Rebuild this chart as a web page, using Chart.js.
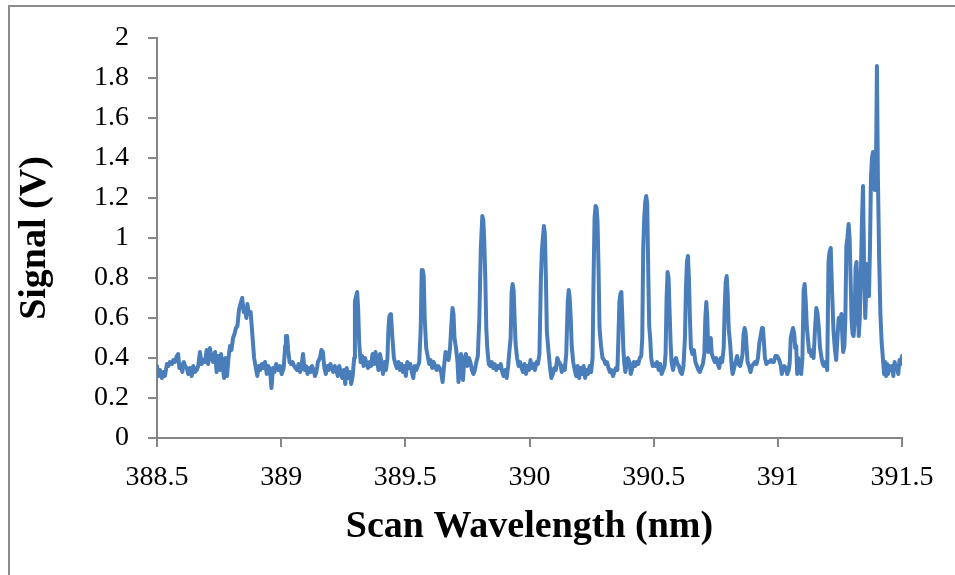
<!DOCTYPE html>
<html lang="en">
<head>
    <meta charset="UTF-8">
    <title>Signal vs Scan Wavelength</title>
    <script src="https://cdn.jsdelivr.net/npm/chart.js"></script>
    <style>
        * {
            padding: 0;
            margin: 0;
            box-sizing: border-box;
        }

        body {
            background: #ffffff;
            width: 955px;
            height: 575px;
            overflow: hidden;
            position: relative;
        }

        #frame {
            position: absolute;
            left: 8px;
            top: 5px;
            width: 960px;
            height: 580px;
            border-left: 2px solid #8c8c8c;
            border-top: 2px solid #8c8c8c;
        }

        #chart {
            position: absolute;
            left: 0;
            top: 0;
        }
    </style>
</head>

<body>
    <div id="frame"></div>
    <canvas id="chart" width="955" height="575"></canvas>

    <script>
        // scan wavelength (nm)
        const wavelength = [
            388.500,388.506,388.512,388.520,388.526,388.532,388.540,388.546,388.552,388.560,
            388.566,388.572,388.580,388.585,388.590,388.596,388.602,388.608,388.613,388.620,
            388.626,388.633,388.640,388.646,388.653,388.660,388.666,388.673,388.680,388.686,
            388.693,388.700,388.706,388.713,388.720,388.726,388.734,388.740,388.746,388.754,
            388.758,388.764,388.770,388.776,388.782,388.788,388.794,388.800,388.806,388.812,
            388.818,388.824,388.830,388.836,388.843,388.849,388.854,388.860,388.864,388.870,
            388.877,388.885,388.891,388.898,388.904,388.910,388.916,388.922,388.928,388.935,
            388.942,388.948,388.955,388.961,388.967,388.973,388.980,388.988,
            388.995,389.002,389.010,389.016,389.019,389.024,389.028,389.034,389.040,389.046,
            389.052,389.058,389.064,389.070,389.076,389.082,389.088,389.094,389.100,389.106,
            389.112,389.118,389.124,389.130,389.136,389.142,389.148,389.156,389.162,389.168,
            389.174,389.180,389.186,389.192,389.198,389.204,389.210,389.216,389.222,389.228,
            389.234,389.240,389.246,389.252,389.258,389.264,389.270,389.276,389.282,389.288,
            389.294,389.297,389.302,389.306,389.310,389.314,389.320,389.326,389.332,389.338,
            389.344,389.350,389.356,389.362,389.368,389.374,389.380,389.386,389.392,389.398,
            389.404,389.410,389.416,389.422,389.428,389.432,389.436,389.442,389.448,389.454,
            389.460,389.466,
            389.472,389.478,389.484,389.490,389.496,389.502,389.508,389.514,389.520,389.526,
            389.532,389.538,389.544,389.550,389.556,389.562,389.566,389.570,389.574,389.578,
            389.584,389.590,389.596,389.602,389.608,389.614,389.620,389.626,389.632,389.638,
            389.644,389.650,389.656,389.662,389.668,389.674,389.680,389.686,389.690,389.694,
            389.698,389.704,389.710,389.714,389.720,389.724,389.728,389.732,389.738,389.744,
            389.750,389.756,389.762,389.768,389.774,389.780,389.786,389.792,389.798,389.804,
            389.810,389.814,389.818,389.822,389.826,389.830,389.836,389.842,389.848,389.854,
            389.860,389.866,389.872,389.878,389.884,389.890,389.896,389.902,389.908,389.914,
            389.918,389.924,389.928,389.932,389.936,389.940,389.944,389.950,389.956,389.962,
            389.968,389.974,389.980,389.986,389.992,389.998,390.004,390.010,390.016,390.022,
            390.028,390.034,390.040,390.046,390.050,390.054,390.058,390.062,390.066,390.070,
            390.076,390.082,390.088,390.094,390.100,390.106,390.112,390.118,390.124,390.130,
            390.136,390.142,390.148,390.154,390.158,390.162,390.166,390.170,390.176,390.182,
            390.188,390.194,390.200,390.206,390.212,390.218,390.224,390.230,390.236,390.242,
            390.248,390.254,390.258,390.262,390.266,390.270,390.274,390.278,390.282,390.288,
            390.294,390.300,390.306,390.312,390.318,390.324,390.330,390.336,390.342,390.348,
            390.354,390.358,390.362,390.366,390.370,390.374,390.378,390.382,390.386,390.390,
            390.396,390.402,390.408,390.414,390.420,390.426,390.432,390.438,390.444,390.450,
            390.454,390.458,390.462,390.466,390.470,390.474,390.478,390.482,390.486,390.490,
            390.496,
            390.502,390.508,390.514,390.520,390.526,390.532,390.538,390.544,390.548,390.552,
            390.556,390.560,390.564,390.568,390.572,390.578,390.584,390.590,390.596,390.602,
            390.608,390.614,390.620,390.626,390.630,390.634,390.638,390.642,390.646,390.650,
            390.656,390.662,390.668,390.674,390.680,390.686,390.692,390.698,390.704,390.708,
            390.712,390.716,390.720,390.726,390.730,390.734,390.740,390.746,390.752,390.758,
            390.764,390.770,390.776,390.782,390.786,390.790,390.794,390.798,390.802,390.808,
            390.814,390.818,390.824,390.830,390.836,390.842,390.848,390.854,390.858,390.862,
            390.866,390.870,390.874,390.878,390.884,390.890,390.896,390.902,390.908,390.914,
            390.920,390.926,390.932,390.936,390.940,390.944,390.948,390.954,390.960,
            390.966,390.972,390.978,390.984,390.990,390.996,391.002,391.008,391.012,391.016,
            391.020,391.026,391.032,391.038,391.044,391.048,391.052,391.057,391.061,391.066,
            391.070,391.074,391.078,391.082,391.086,391.090,391.094,391.099,391.104,391.108,
            391.113,391.117,391.121,391.126,391.131,391.135,391.140,391.144,391.150,391.155,
            391.160,391.165,391.170,391.176,391.181,391.186,391.192,391.199,391.204,391.208,
            391.213,391.218,391.224,391.230,391.235,391.240,391.245,391.251,391.256,391.260,
            391.263,391.268,391.272,391.276,391.280,391.285,391.289,391.293,391.297,391.301,
            391.305,391.309,391.313,391.317,391.321,391.326,391.330,391.334,391.339,391.343,
            391.347,391.352,391.356,391.359,391.363,391.367,391.371,391.375,391.379,391.383,
            391.387,391.391,391.395,391.399,391.403,391.408,391.413,391.418,391.423,391.428,
            391.432,391.436,391.440,391.444,391.449,391.454,391.460,391.465,391.470,391.475,
            391.480,391.485,391.490,391.495,391.500
        ];

        // signal (V), same order as wavelength
        const signal = [
            0.36,0.31,0.34,0.30,0.33,0.31,0.37,0.36,0.38,0.37,
            0.39,0.38,0.41,0.42,0.35,0.37,0.33,0.38,0.36,0.35,
            0.32,0.35,0.31,0.36,0.33,0.34,0.36,0.43,0.37,0.39,
            0.38,0.44,0.37,0.45,0.40,0.38,0.43,0.33,0.41,0.34,
            0.42,0.36,0.30,0.40,0.31,0.40,0.46,0.44,0.50,0.52,
            0.55,0.56,0.64,0.67,0.70,0.63,0.64,0.60,0.67,0.62,
            0.63,0.50,0.40,0.35,0.31,0.36,0.34,0.37,0.35,0.38,
            0.32,0.36,0.34,0.25,0.35,0.33,0.37,0.34,
            0.36,0.32,0.35,0.46,0.51,0.51,0.44,0.38,0.37,0.38,
            0.36,0.35,0.34,0.37,0.33,0.36,0.42,0.34,0.36,0.32,
            0.35,0.33,0.36,0.34,0.31,0.33,0.38,0.40,0.44,0.43,
            0.35,0.32,0.36,0.34,0.37,0.35,0.33,0.36,0.34,0.31,
            0.36,0.33,0.30,0.34,0.27,0.35,0.30,0.33,0.27,0.31,
            0.40,0.68,0.71,0.73,0.65,0.48,0.38,0.41,0.36,0.40,
            0.37,0.35,0.38,0.36,0.42,0.37,0.43,0.38,0.34,0.42,
            0.38,0.32,0.38,0.34,0.40,0.55,0.61,0.62,0.50,0.40,
            0.37,0.35,
            0.38,0.34,0.37,0.33,0.36,0.31,0.38,0.35,0.37,0.33,
            0.30,0.36,0.34,0.36,0.38,0.55,0.84,0.84,0.81,0.60,
            0.45,0.41,0.37,0.39,0.35,0.38,0.36,0.34,0.36,0.35,
            0.33,0.28,0.36,0.43,0.42,0.39,0.45,0.58,0.65,0.62,
            0.50,0.45,0.38,0.28,0.38,0.42,0.33,0.29,0.40,0.42,
            0.36,0.40,0.38,0.34,0.32,0.34,0.38,0.41,0.60,0.95,
            1.11,1.09,0.98,0.80,0.55,0.45,0.37,0.36,0.38,0.35,
            0.37,0.34,0.36,0.35,0.37,0.33,0.31,0.34,0.30,0.36,
            0.42,0.50,0.73,0.77,0.74,0.60,0.47,0.40,0.36,0.38,
            0.35,0.33,0.37,0.32,0.36,0.34,0.39,0.35,0.37,0.34,
            0.38,0.37,0.42,0.80,0.94,1.00,1.06,1.02,0.80,0.53,
            0.44,0.36,0.30,0.32,0.35,0.34,0.40,0.38,0.37,0.33,
            0.36,0.34,0.42,0.68,0.74,0.70,0.60,0.46,0.38,0.34,
            0.31,0.36,0.30,0.35,0.32,0.36,0.30,0.34,0.32,0.36,
            0.33,0.40,0.80,1.10,1.16,1.15,1.08,0.85,0.55,0.46,
            0.40,0.39,0.37,0.38,0.35,0.33,0.34,0.31,0.33,0.35,
            0.34,0.50,0.68,0.72,0.73,0.60,0.44,0.37,0.33,0.36,
            0.40,0.38,0.32,0.35,0.38,0.36,0.38,0.37,0.40,0.41,
            0.50,0.95,1.10,1.18,1.21,1.17,0.85,0.56,0.50,0.40,
            0.36,
            0.37,0.36,0.38,0.34,0.37,0.32,0.34,0.36,0.42,0.70,
            0.83,0.80,0.64,0.48,0.38,0.34,0.38,0.40,0.37,0.36,
            0.33,0.32,0.36,0.50,0.75,0.88,0.91,0.80,0.60,0.45,
            0.42,0.44,0.38,0.36,0.34,0.33,0.35,0.37,0.42,0.60,
            0.68,0.60,0.43,0.48,0.50,0.42,0.40,0.38,0.40,0.37,
            0.35,0.40,0.38,0.45,0.65,0.78,0.81,0.72,0.55,0.47,
            0.36,0.32,0.35,0.38,0.41,0.37,0.36,0.39,0.42,0.52,
            0.55,0.53,0.46,0.38,0.36,0.33,0.36,0.37,0.38,0.37,
            0.40,0.48,0.52,0.55,0.55,0.48,0.40,0.37,0.38,
            0.38,0.39,0.38,0.38,0.41,0.41,0.40,0.38,0.36,0.32,
            0.34,0.36,0.35,0.32,0.34,0.38,0.50,0.53,0.55,0.52,
            0.45,0.46,0.32,0.40,0.33,0.35,0.32,0.40,0.74,0.77,
            0.67,0.55,0.50,0.43,0.44,0.41,0.42,0.40,0.55,0.65,
            0.62,0.55,0.45,0.40,0.37,0.36,0.38,0.34,0.88,0.93,
            0.95,0.75,0.54,0.44,0.39,0.50,0.60,0.58,0.62,0.50,
            0.43,0.46,0.60,0.96,1.00,1.07,1.00,0.80,0.59,0.52,
            0.51,0.58,0.85,0.88,0.72,0.51,0.60,0.79,1.10,1.26,
            0.90,0.60,0.75,0.87,0.78,0.71,0.95,1.30,1.40,1.43,
            1.26,1.24,1.30,1.86,1.30,0.90,0.62,0.48,0.40,0.32,
            0.38,0.31,0.37,0.32,0.36,0.34,0.36,0.31,0.38,0.35,
            0.36,0.32,0.39,0.37,0.41
        ];

        const xTicks = [388.5, 389, 389.5, 390, 390.5, 391, 391.5];
        const yTicks = [0, 0.2, 0.4, 0.6, 0.8, 1, 1.2, 1.4, 1.6, 1.8, 2];

        const points = wavelength.map((w, i) => ({ x: w, y: signal[i] }));

        const axisColor = '#868686';
        const tickFont = { family: "'Liberation Serif', 'Times New Roman', serif", size: 28 };
        const titleFont = { family: "'Liberation Serif', 'Times New Roman', serif", size: 38, weight: 'bold' };

        // plain labels: "389" not "389.0", "1" not "1.0"
        const plain = v => String(Math.round(v * 10) / 10);

        new Chart(document.getElementById('chart'), {
            type: 'scatter',
            data: {
                datasets: [{
                    label: 'Signal',
                    data: points,
                    showLine: true,
                    borderColor: '#4a7ebb',
                    borderWidth: 4,
                    borderJoinStyle: 'round',
                    borderCapStyle: 'round',
                    pointRadius: 0,
                    tension: 0
                }]
            },
            options: {
                responsive: false,
                animation: false,
                layout: { padding: { left: 0, right: 53, top: 38, bottom: 0 } },
                plugins: {
                    legend: { display: false },
                    tooltip: { enabled: false }
                },
                scales: {
                    x: {
                        type: 'linear',
                        min: xTicks[0],
                        max: xTicks[xTicks.length - 1],
                        afterBuildTicks: s => { s.ticks = xTicks.map(v => ({ value: v })); },
                        afterFit: s => { s.height = 137; },
                        ticks: { color: '#000', font: tickFont, padding: 14, maxRotation: 0, callback: plain },
                        grid: { drawOnChartArea: false, drawTicks: true, tickLength: 9, color: axisColor, lineWidth: 2 },
                        border: { display: true, color: axisColor, width: 2 },
                        title: { display: true, text: 'Scan Wavelength (nm)', color: '#000', font: titleFont, padding: { top: 0, bottom: 25 } }
                    },
                    y: {
                        min: 0,
                        max: 2,
                        afterBuildTicks: s => { s.ticks = yTicks.map(v => ({ value: v })); },
                        afterFit: s => { s.width = 157; },
                        ticks: { color: '#000', font: tickFont, padding: 19, callback: plain },
                        grid: { drawOnChartArea: false, drawTicks: true, tickLength: 9, color: axisColor, lineWidth: 2 },
                        border: { display: true, color: axisColor, width: 2 },
                        title: { display: true, text: 'Signal (V)', color: '#000', font: titleFont, padding: { top: 12, bottom: 0 } }
                    }
                }
            }
        });
    </script>
</body>
</html>
